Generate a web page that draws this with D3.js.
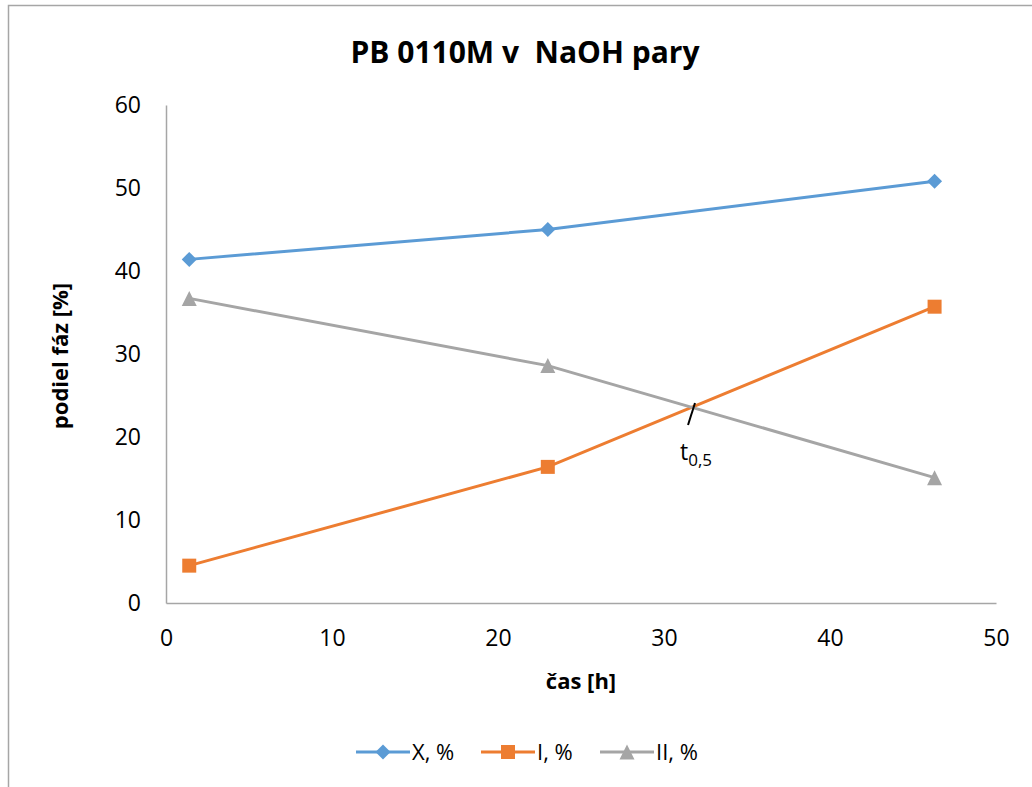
<!DOCTYPE html>
<html><head><meta charset="utf-8">
<script src="https://cdn.jsdelivr.net/npm/d3@7"></script>
<style>body{margin:0;background:#fff;} text{font-family:"Open Sans",sans-serif;}</style>
</head><body>
<svg id="c" width="1032" height="787"></svg>
<script>
const hours = [1.4, 23.0, 46.3];
const seriesNames = ["X, %", "I, %", "II, %"];
const seriesX = [41.4, 45.0, 50.8];
const seriesI = [4.5, 16.4, 35.7];
const seriesII = [36.7, 28.6, 15.1];
const xTicks = [0, 10, 20, 30, 40, 50];
const yTicks = [0, 10, 20, 30, 40, 50, 60];
const colors = ["#5b9bd5", "#ed7d31", "#a5a5a5"];
const allSeries = [seriesX, seriesI, seriesII];

// custom marker types
const diamond = {draw(ctx, s){ const r = 7.5; ctx.moveTo(0,-r); ctx.lineTo(r,0); ctx.lineTo(0,r); ctx.lineTo(-r,0); ctx.closePath(); }};
const square = {draw(ctx, s){ const r = 7; ctx.rect(-r,-r,2*r,2*r); }};
const triangle = {draw(ctx, s){ const r = 7.5; ctx.moveTo(0,-r); ctx.lineTo(r,r); ctx.lineTo(-r,r); ctx.closePath(); }};
const symbols = [diamond, square, triangle];

const svg = d3.select("#c");
svg.append("rect").attr("x", 8.5).attr("y", 5.5).attr("width", 1040).attr("height", 800)
  .attr("fill", "#fff").attr("stroke", "#a6a6a6").attr("stroke-width", 1.5);

const x = d3.scaleLinear().domain([0, 50]).range([166, 996]);
const y = d3.scaleLinear().domain([0, 60]).range([603, 105]);

svg.append("text").attr("x", 525).attr("y", 63).attr("text-anchor", "middle")
  .attr("font-size", 30).attr("font-weight", "bold").text("PB 0110M v  NaOH pary").style("white-space","pre");

const xa = svg.append("g").attr("transform", "translate(0,603)")
  .call(d3.axisBottom(x).tickValues(xTicks).tickSize(0).tickPadding(27));
xa.select(".domain").attr("stroke", "#a6a6a6").attr("stroke-width", 1.5);
xa.selectAll("text").attr("font-size", 23).attr("fill", "#000").style("font-family", "'Open Sans', sans-serif");

const ya = svg.append("g").attr("transform", "translate(166,0)")
  .call(d3.axisLeft(y).tickValues(yTicks).tickSize(0).tickPadding(25));
ya.select(".domain").attr("stroke", "#a6a6a6").attr("stroke-width", 1.5);
ya.selectAll("text").attr("font-size", 23).attr("fill", "#000").style("font-family", "'Open Sans', sans-serif");

svg.append("text").attr("x", 581).attr("y", 689).attr("text-anchor", "middle")
  .attr("font-size", 22).attr("font-weight", "bold").text("čas [h]");
svg.append("text").attr("transform", "translate(68,356) rotate(-90)").attr("text-anchor", "middle")
  .attr("font-size", 22).attr("font-weight", "bold").text("podiel fáz [%]");

const line = d3.line().x((d, i) => x(hours[i])).y(d => y(d));
allSeries.forEach((s, k) => {
  svg.append("path").attr("d", line(s)).attr("fill", "none")
    .attr("stroke", colors[k]).attr("stroke-width", 3);
  svg.selectAll(null).data(s).enter().append("path")
    .attr("transform", (d, i) => `translate(${x(hours[i])},${y(d)})`)
    .attr("d", d3.symbol().type(symbols[k]))
    .attr("fill", colors[k]);
});

// annotation
svg.append("line").attr("x1", 695).attr("y1", 403).attr("x2", 688).attr("y2", 425)
  .attr("stroke", "#000").attr("stroke-width", 2);
const t = svg.append("text").attr("x", 680).attr("y", 460).attr("font-size", 23);
t.append("tspan").text("t");
t.append("tspan").attr("font-size", 17).attr("dy", 6).text("0,5");

// legend
const legX = [356, 481, 600];
seriesNames.forEach((n, k) => {
  const g = svg.append("g").attr("transform", `translate(${legX[k]},752)`);
  g.append("line").attr("x1", 0).attr("x2", 54).attr("stroke", colors[k]).attr("stroke-width", 3);
  g.append("path").attr("transform", `translate(27,0)`)
    .attr("d", d3.symbol().type(symbols[k])).attr("fill", colors[k]);
  g.append("text").attr("x", 56).attr("y", 8).attr("font-size", 22).text(n);
});
</script>
</body></html>
